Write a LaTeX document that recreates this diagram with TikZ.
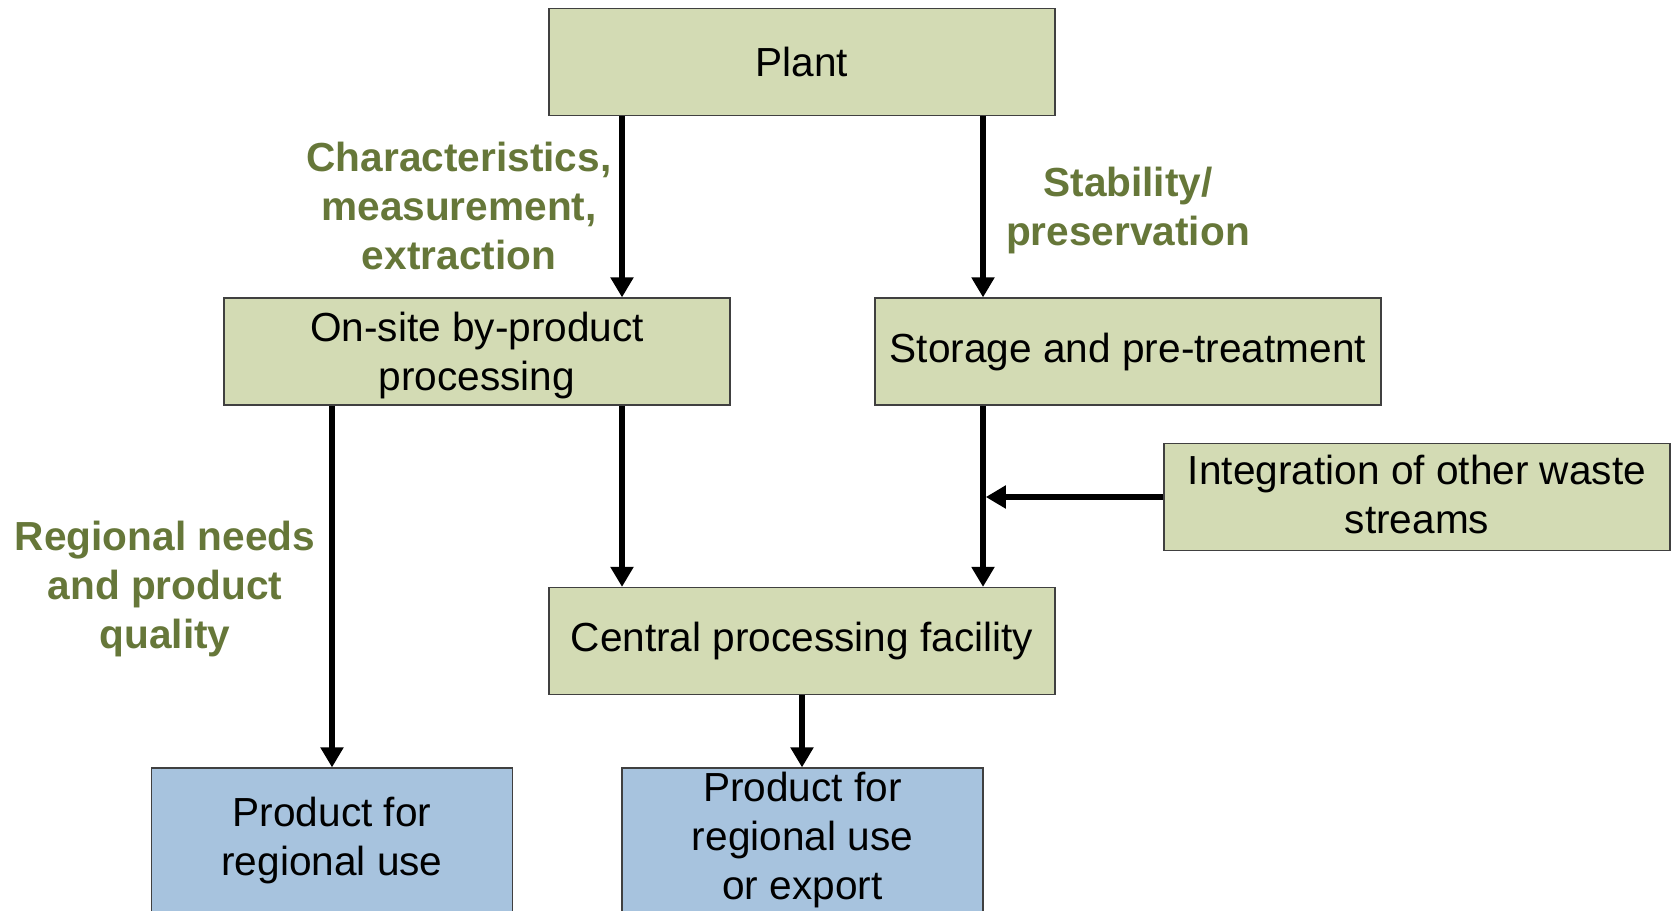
\documentclass[tikz,border=0pt]{standalone}
\usepackage{fontspec}
\setmainfont{Liberation Sans}
\usetikzlibrary{arrows.meta,calc}
\definecolor{boxgreen}{RGB}{211,219,180}
\definecolor{boxblue}{RGB}{167,195,222}
\definecolor{labgreen}{RGB}{102,119,57}
\definecolor{edge}{RGB}{64,64,64}
\begin{document}
\begin{tikzpicture}[x=0.5pt,y=-0.5pt,
  box/.style={draw=edge,line width=0.6pt,fill=boxgreen,minimum width=253pt,minimum height=53.5pt,
    inner sep=0pt,align=center,font=\fontsize{20.3}{24.5}\selectfont},
  bluebox/.style={box,fill=boxblue,minimum width=180.5pt,minimum height=72pt},
  lab/.style={align=center,inner sep=0pt,text=labgreen,font=\fontsize{20.3}{24.5}\selectfont\bfseries},
  arr/.style={line width=2.8pt,-{Triangle[length=10pt,width=11pt]}}]
\useasboundingbox (0,0) rectangle (1673,910);
\clip (0,0) rectangle (1673,910);
\fill[white] (0,0) rectangle (1673,910);
\node[box] (plant) at (802,62) {Plant};
\node[box,text depth=-2pt] (onsite) at (477,351.5) {On-site by-product\\processing};
\node[box] (storage) at (1128,351.5) {Storage and pre-treatment};
\node[box,text depth=3pt] (integ) at (1417,497) {Integration of other waste\\streams};
\node[box] (central) at (802,641) {Central processing facility};
\node[bluebox] (pl) at (332,840) {Product for\\regional use};
\node[bluebox] (pr) at (802.5,840) {Product for\\regional use\\or export};
\coordinate (la) at ([xshift=-90pt]plant.south);
\coordinate (ra) at ([xshift=90.5pt]plant.south);
\draw[arr] (la) -- (la |- onsite.north);
\draw[arr] (ra) -- (ra |- storage.north);
\draw[arr] (la |- onsite.south) -- (la |- central.north);
\draw[arr] (pl.north |- onsite.south) -- (pl.north);
\draw[arr] (ra |- storage.south) -- (ra |- central.north);
\draw[arr] (integ.west) -- ([xshift=1.4pt]ra |- integ.west);
\draw[arr] (central.south) -- (central.south |- pr.north);
\node[lab] (l1) at (459,206) {Characteristics,\\measurement,\\extraction};
\node[lab] (l2) at (1128,210) {Stability/\\preservation};
\node[lab] (l3) at (165,589) {Regional needs\\and product\\quality};
\end{tikzpicture}
\end{document}
